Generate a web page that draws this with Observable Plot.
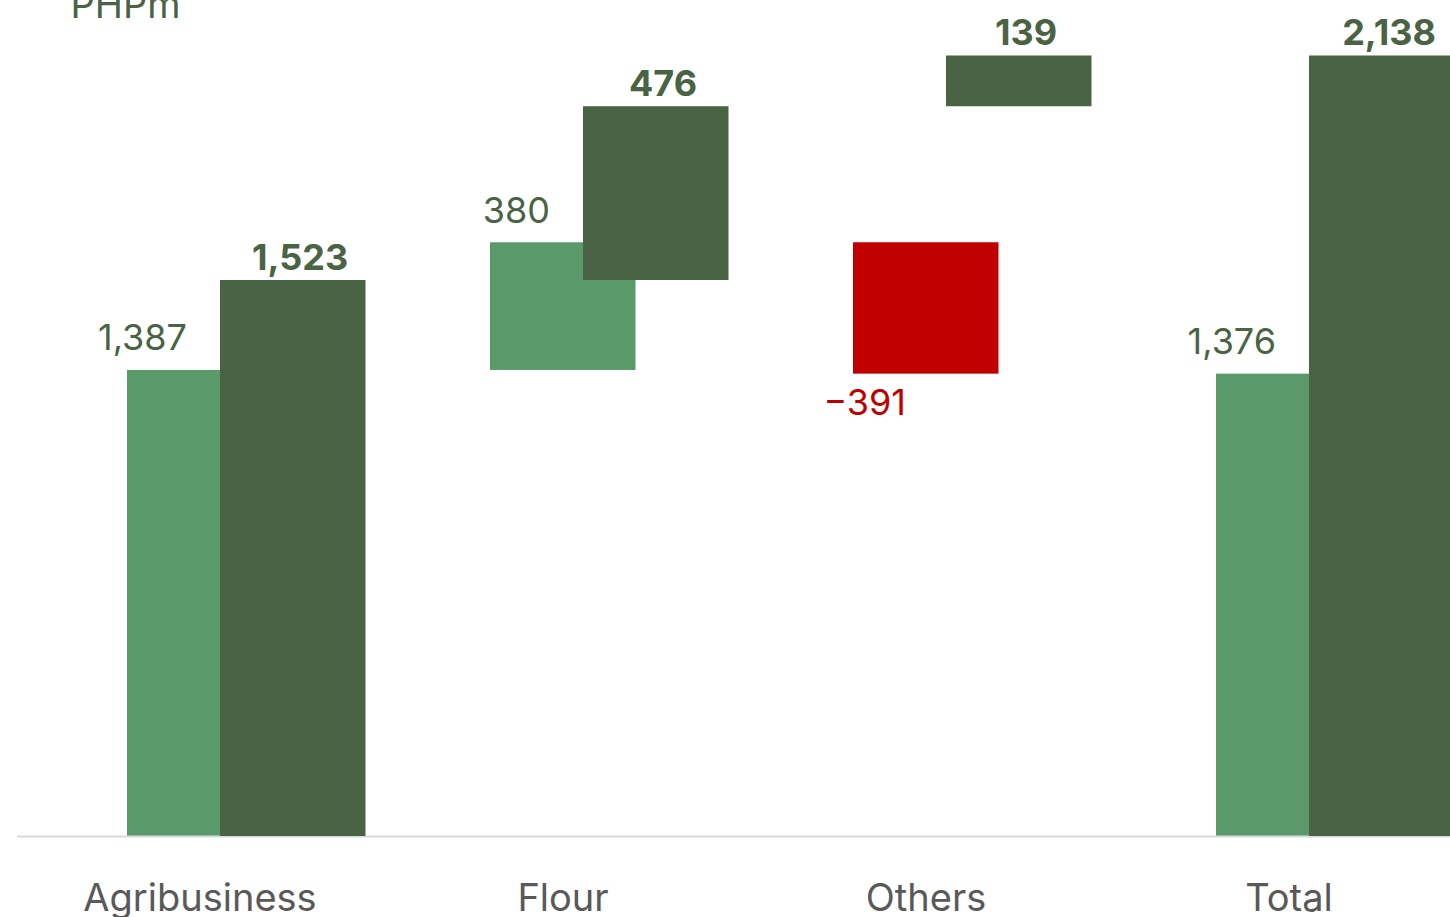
<!DOCTYPE html>
<html><head><meta charset="utf-8">
<script src="https://cdn.jsdelivr.net/npm/d3@7"></script>
<script src="https://cdn.jsdelivr.net/npm/@observablehq/plot@0.6"></script>
<style>html,body{margin:0;padding:0;background:#fff;overflow:hidden}</style>
</head><body><div id="chart"></div>
<script>
const categories = ["Agribusiness", "Flour", "Others", "Total"];
const prevYear = [1387, 380, -391, 1376];
const currYear = [1523, 476, 139, 2138];
const totalFlags = [false, false, false, true];
const unitLabel = "PHPm";
// Excel-style dual axes: primary (previous year) and secondary (current year)
const primaryAxisMax = 2488;
const secondaryAxisMax = 2290;

const lightGreen = "#5A9A6A", darkGreen = "#4A6344", red = "#C00000";
const font = "Inter, 'Open Sans', sans-serif";
const fmt = d3.format(",");

function waterfall(values, scale) {
  let run = 0;
  return values.map((v, i) => {
    let start, end;
    if (totalFlags[i]) { start = 0; end = v; }
    else { start = run; end = run + v; }
    run = end;
    return {category: categories[i], value: v,
      start: start * scale, end: end * scale,
      top: Math.max(start, end) * scale, bottom: Math.min(start, end) * scale,
      negative: v < 0};
  });
}
const prev = waterfall(prevYear, 1);
const curr = waterfall(currYear, primaryAxisMax / secondaryAxisMax);

const chart = Plot.plot({
  width: 1471, height: 917,
  marginLeft: 17, marginRight: 0, marginTop: 0, marginBottom: 81,
  style: {fontFamily: font, maxWidth: "none", background: "#fff"},
  x: {type: "band", domain: categories, padding: 0, label: null},
  y: {domain: [0, primaryAxisMax], axis: null},
  marks: [
    Plot.barY(prev.filter(d => !d.negative), {x: "category", y1: "start", y2: "end", fill: lightGreen, insetLeft: 109, insetRight: 108.5}),
    Plot.barY(prev.filter(d => d.negative), {x: "category", y1: "start", y2: "end", fill: red, insetLeft: 109, insetRight: 108.5}),
    Plot.ruleY([0], {stroke: "#D9D9D9", strokeWidth: 2}),
    Plot.barY(curr, {x: "category", y1: "start", y2: "end", fill: d => d.negative ? red : darkGreen, insetLeft: 202, insetRight: 15.5}),
    Plot.axisX({tickSize: 0, tickPadding: 48, fontSize: 38, color: "#595959", fontFamily: font, label: null}),
    Plot.text(prev.filter(d => !d.negative), {x: "category", y: "top", text: d => fmt(d.value), textAnchor: "end", lineAnchor: "bottom", dx: -13, dy: -20, fontSize: 36, fill: darkGreen}),
    Plot.text(prev.filter(d => d.negative), {x: "category", y: "bottom", text: d => fmt(d.value), textAnchor: "end", lineAnchor: "bottom", dx: -20, dy: 41, fontSize: 36, fill: red}),
    Plot.text(curr, {x: "category", y: "top", text: d => fmt(d.value), textAnchor: "middle", lineAnchor: "bottom", dx: 100, dy: -11, fontSize: 36, fontWeight: 700, fill: darkGreen}),
    Plot.text([unitLabel], {frameAnchor: "top-left", text: d => d, textAnchor: "start", lineAnchor: "bottom", dx: 53, dy: 17, fontSize: 38, fill: darkGreen})
  ]
});
document.getElementById("chart").appendChild(chart);
</script>
</body></html>
